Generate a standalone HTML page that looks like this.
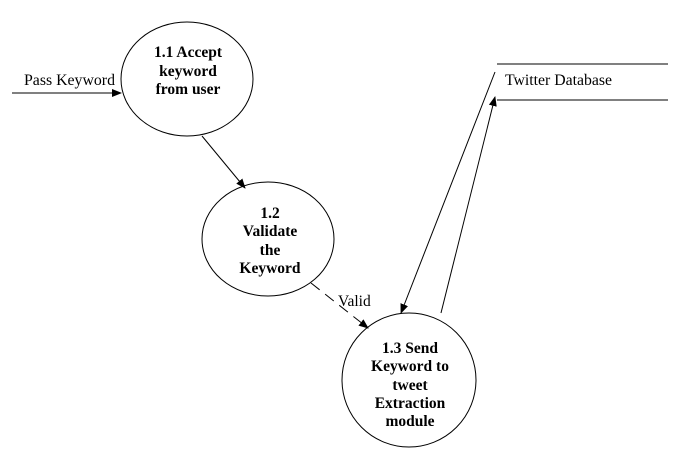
<!DOCTYPE html>
<html><head><style>html,body{margin:0;padding:0;background:#fff}svg{display:block}text{font-family:"Liberation Serif","DejaVu Serif",serif}</style></head>
<body>
<svg width="689" height="476" xmlns="http://www.w3.org/2000/svg">
<defs><marker id="a" markerWidth="10" markerHeight="8" refX="9" refY="4" orient="auto" markerUnits="userSpaceOnUse"><path d="M0,0 L10,4 L0,8 Z" fill="#000"/></marker></defs>
<g fill="none" stroke="#000" stroke-width="1">
<ellipse cx="187" cy="79" rx="66" ry="57"/>
<ellipse cx="268" cy="239" rx="66" ry="57"/>
<ellipse cx="409" cy="380" rx="67" ry="67"/>
<line x1="497" y1="64" x2="668" y2="64"/>
<line x1="497" y1="100" x2="668" y2="100"/>
<line x1="12" y1="93" x2="121" y2="93" marker-end="url(#a)"/>
<line x1="202" y1="136" x2="245" y2="188" marker-end="url(#a)"/>
<line x1="311" y1="283" x2="368" y2="328" stroke-dasharray="11,7" marker-end="url(#a)"/>
<line x1="495" y1="72" x2="401" y2="313" marker-end="url(#a)"/>
<line x1="441" y1="313" x2="495" y2="97" marker-end="url(#a)"/>
</g>
<g font-size="15.5" fill="#000">
<text x="24" y="85" textLength="91" lengthAdjust="spacingAndGlyphs">Pass Keyword</text>
<text x="505" y="85" textLength="107" lengthAdjust="spacingAndGlyphs">Twitter Database</text>
<text x="338" y="306">Valid</text>
</g>
<g font-size="15.5" font-weight="bold" text-anchor="middle" fill="#000">
<text x="188" y="57">1.1 Accept</text>
<text x="188" y="76">keyword</text>
<text x="188" y="94">from user</text>
<text x="270" y="218">1.2</text>
<text x="270" y="236">Validate</text>
<text x="270" y="255">the</text>
<text x="270" y="273">Keyword</text>
<text x="410" y="353">1.3 Send</text>
<text x="410" y="371">Keyword to</text>
<text x="410" y="390">tweet</text>
<text x="410" y="408">Extraction</text>
<text x="410" y="426">module</text>
</g>
</svg>
</body></html>
